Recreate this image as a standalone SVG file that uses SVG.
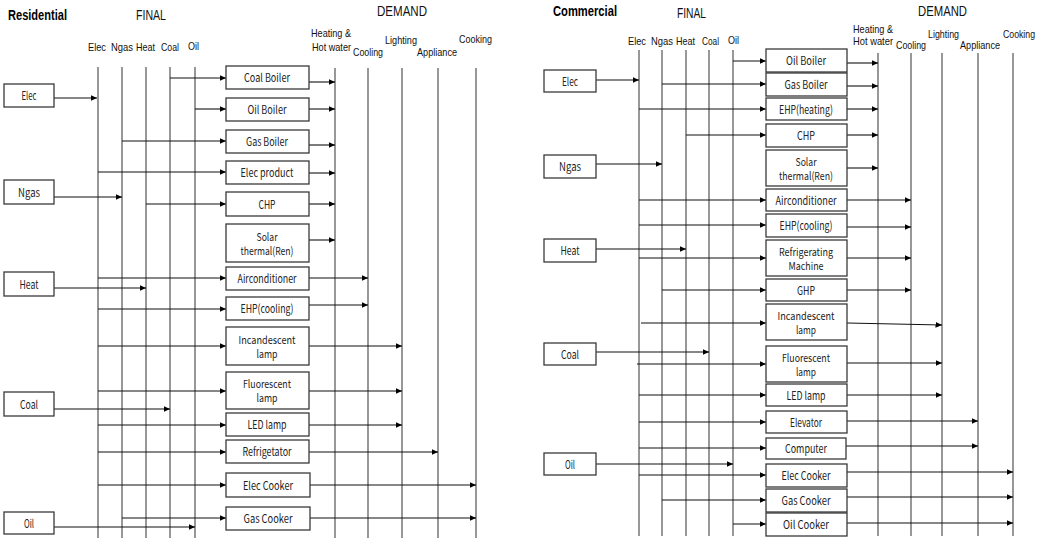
<svg xmlns="http://www.w3.org/2000/svg" width="1043" height="538" viewBox="0 0 1043 538">
<style>
.bg{fill:#fff}
.box{fill:#fff;stroke:#3a3a3a;stroke-width:1.3}
.lbl{font-family:"Noto Sans CJK KR","Noto Sans",sans-serif;font-size:11.5px;fill:#222;text-anchor:middle}
.l2{font-size:11px}
.hd{font-family:"Liberation Sans",Arial,sans-serif;font-size:11.5px;fill:#111}
.ttl{font-family:"Liberation Sans",Arial,sans-serif;font-size:14px;font-weight:bold;fill:#000}
.sec{font-family:"Liberation Sans",Arial,sans-serif;font-size:14px;fill:#111}
.ln{stroke:#444;stroke-width:1.1;fill:none}
.ar{stroke:#111;stroke-width:1.1;fill:none;marker-end:url(#ah)}
</style>
<defs>
<marker id="ah" markerUnits="userSpaceOnUse" markerWidth="7" markerHeight="6" refX="6.5" refY="3" orient="auto">
<path d="M0,0 L6.5,3 L0,6 z" fill="#000"/>
</marker>
</defs>
<rect class="bg" x="0" y="0" width="1043" height="538"/>

<g id="headers">
<text class="ttl" x="8" y="20" textLength="59" lengthAdjust="spacingAndGlyphs">Residential</text>
<text class="sec" x="136" y="20" textLength="30" lengthAdjust="spacingAndGlyphs">FINAL</text>
<text class="sec" x="377" y="16" textLength="50" lengthAdjust="spacingAndGlyphs">DEMAND</text>
<text class="hd" x="88" y="51" textLength="18" lengthAdjust="spacingAndGlyphs">Elec</text>
<text class="hd" x="111" y="51" textLength="22" lengthAdjust="spacingAndGlyphs">Ngas</text>
<text class="hd" x="136" y="51" textLength="19" lengthAdjust="spacingAndGlyphs">Heat</text>
<text class="hd" x="161" y="51" textLength="18" lengthAdjust="spacingAndGlyphs">Coal</text>
<text class="hd" x="188" y="50" textLength="11" lengthAdjust="spacingAndGlyphs">Oil</text>
<text class="hd" x="311" y="37" textLength="40" lengthAdjust="spacingAndGlyphs">Heating &amp;</text>
<text class="hd" x="312" y="51" textLength="39" lengthAdjust="spacingAndGlyphs">Hot water</text>
<text class="hd" x="353" y="56" textLength="30" lengthAdjust="spacingAndGlyphs">Cooling</text>
<text class="hd" x="385" y="44" textLength="32" lengthAdjust="spacingAndGlyphs">Lighting</text>
<text class="hd" x="417" y="56" textLength="40" lengthAdjust="spacingAndGlyphs">Appliance</text>
<text class="hd" x="459" y="43" textLength="33" lengthAdjust="spacingAndGlyphs">Cooking</text>

<text class="ttl" x="553" y="16" textLength="64" lengthAdjust="spacingAndGlyphs">Commercial</text>
<text class="sec" x="677" y="18" textLength="29" lengthAdjust="spacingAndGlyphs">FINAL</text>
<text class="sec" x="918" y="16" textLength="49" lengthAdjust="spacingAndGlyphs">DEMAND</text>
<text class="hd" x="628" y="45" textLength="18" lengthAdjust="spacingAndGlyphs">Elec</text>
<text class="hd" x="651" y="45" textLength="22" lengthAdjust="spacingAndGlyphs">Ngas</text>
<text class="hd" x="676" y="45" textLength="19" lengthAdjust="spacingAndGlyphs">Heat</text>
<text class="hd" x="702" y="45" textLength="17" lengthAdjust="spacingAndGlyphs">Coal</text>
<text class="hd" x="728" y="44" textLength="11" lengthAdjust="spacingAndGlyphs">Oil</text>
<text class="hd" x="853" y="33" textLength="40" lengthAdjust="spacingAndGlyphs">Heating &amp;</text>
<text class="hd" x="853" y="45" textLength="40" lengthAdjust="spacingAndGlyphs">Hot water</text>
<text class="hd" x="896" y="49" textLength="30" lengthAdjust="spacingAndGlyphs">Cooling</text>
<text class="hd" x="928" y="38" textLength="31" lengthAdjust="spacingAndGlyphs">Lighting</text>
<text class="hd" x="960" y="49" textLength="40" lengthAdjust="spacingAndGlyphs">Appliance</text>
<text class="hd" x="1003" y="38" textLength="32" lengthAdjust="spacingAndGlyphs" style="font-size:10px">Cooking</text>
</g>

<g id="connectors">
<path class="ln" d="M98,67V538 M122,67V538 M146,67V538 M170,67V538 M195,67V538"/>
<path class="ln" d="M335,68V538 M368,68V538 M402,68V538 M438,68V538 M476,68V538"/>
<path class="ar" d="M54,98H97"/>
<path class="ar" d="M54,197H122"/>
<path class="ar" d="M54,288H146"/>
<path class="ar" d="M54,409H170"/>
<path class="ar" d="M54,527H195"/>
<path class="ar" d="M170,78H226"/>
<path class="ar" d="M195,109H226"/>
<path class="ar" d="M122,141H226"/>
<path class="ar" d="M98,172H226"/>
<path class="ar" d="M146,204H226"/>
<path class="ar" d="M98,278H226"/>
<path class="ar" d="M98,309H226"/>
<path class="ar" d="M98,346H226"/>
<path class="ar" d="M98,391H226"/>
<path class="ar" d="M98,425H226"/>
<path class="ar" d="M98,452H226"/>
<path class="ar" d="M98,485H226"/>
<path class="ar" d="M122,518H226"/>
<path class="ar" d="M309,82H335"/>
<path class="ar" d="M309,109H335"/>
<path class="ar" d="M309,145H335"/>
<path class="ar" d="M309,173H335"/>
<path class="ar" d="M309,204H335"/>
<path class="ar" d="M309,240H335"/>
<path class="ar" d="M309,278H368"/>
<path class="ar" d="M309,305H368"/>
<path class="ar" d="M309,346H402"/>
<path class="ar" d="M309,391H402"/>
<path class="ar" d="M309,425H402"/>
<path class="ar" d="M309,452H438"/>
<path class="ar" d="M310,485H476"/>
<path class="ar" d="M310,518H476"/>

<path class="ln" d="M639,50V536 M662,50V536 M686,50V536 M709,50V536 M733,50V536"/>
<path class="ln" d="M878,53V536 M911,53V536 M942,53V536 M978,53V536 M1013,53V536"/>
<path class="ar" d="M596,80H639"/>
<path class="ar" d="M596,164H662"/>
<path class="ar" d="M596,249H686"/>
<path class="ar" d="M596,352H709"/>
<path class="ar" d="M596,464H733"/>
<path class="ar" d="M733,61H766"/>
<path class="ar" d="M662,84H766"/>
<path class="ar" d="M639,109H766"/>
<path class="ar" d="M686,135H766"/>
<path class="ar" d="M639,200H766"/>
<path class="ar" d="M639,225H766"/>
<path class="ar" d="M639,258H766"/>
<path class="ar" d="M662,290H766"/>
<path class="ar" d="M641,323H766"/>
<path class="ar" d="M637,364H766"/>
<path class="ar" d="M639,395H766"/>
<path class="ar" d="M639,422H766"/>
<path class="ar" d="M639,448H766"/>
<path class="ar" d="M639,475H766"/>
<path class="ar" d="M662,500H766"/>
<path class="ar" d="M733,524H766"/>
<path class="ar" d="M847,63H878"/>
<path class="ar" d="M847,86H878"/>
<path class="ar" d="M847,109H878"/>
<path class="ar" d="M847,135H878"/>
<path class="ar" d="M847,168H878"/>
<path class="ar" d="M847,200H911"/>
<path class="ar" d="M847,227H911"/>
<path class="ar" d="M847,258H911"/>
<path class="ar" d="M847,290H911"/>
<path class="ar" d="M847,323L942,325"/>
<path class="ar" d="M847,363H942"/>
<path class="ar" d="M847,395H942"/>
<path class="ar" d="M847,421H978"/>
<path class="ar" d="M846,446H978"/>
<path class="ar" d="M847,472H1013"/>
<path class="ar" d="M847,497H1013"/>
<path class="ar" d="M847,523H1013"/>
</g>

<g id="res-src-elec"><rect class="box" x="4" y="84" width="50" height="23"/><text class="lbl" x="29" y="100" textLength="15" lengthAdjust="spacingAndGlyphs">Elec</text></g>
<g id="res-src-ngas"><rect class="box" x="4" y="180" width="50" height="24"/><text class="lbl" x="29" y="196.5" textLength="22" lengthAdjust="spacingAndGlyphs">Ngas</text></g>
<g id="res-src-heat"><rect class="box" x="4" y="272" width="50" height="24"/><text class="lbl" x="29" y="288.5" textLength="19" lengthAdjust="spacingAndGlyphs">Heat</text></g>
<g id="res-src-coal"><rect class="box" x="4" y="392" width="50" height="24"/><text class="lbl" x="29" y="408.5" textLength="18" lengthAdjust="spacingAndGlyphs">Coal</text></g>
<g id="res-src-oil"><rect class="box" x="4" y="512" width="50" height="22"/><text class="lbl" x="29" y="527.5" textLength="10" lengthAdjust="spacingAndGlyphs">Oil</text></g>

<g id="res-coal-boiler"><rect class="box" x="226" y="66" width="83" height="23"/><text class="lbl" x="267" y="82" textLength="46" lengthAdjust="spacingAndGlyphs">Coal Boiler</text></g>
<g id="res-oil-boiler"><rect class="box" x="226" y="98" width="83" height="23"/><text class="lbl" x="267" y="114" textLength="39" lengthAdjust="spacingAndGlyphs">Oil Boiler</text></g>
<g id="res-gas-boiler"><rect class="box" x="226" y="130" width="83" height="23"/><text class="lbl" x="267" y="146" textLength="42" lengthAdjust="spacingAndGlyphs">Gas Boiler</text></g>
<g id="res-elec-product"><rect class="box" x="226" y="161" width="83" height="23"/><text class="lbl" x="267" y="177" textLength="53" lengthAdjust="spacingAndGlyphs">Elec product</text></g>
<g id="res-chp"><rect class="box" x="226" y="192" width="83" height="24"/><text class="lbl" x="267" y="208.5" textLength="17" lengthAdjust="spacingAndGlyphs">CHP</text></g>
<g id="res-solar"><rect class="box" x="226" y="224" width="83" height="38"/><text class="lbl l2" x="267" y="241" textLength="21" lengthAdjust="spacingAndGlyphs">Solar</text><text class="lbl l2" x="267" y="255" textLength="53" lengthAdjust="spacingAndGlyphs">thermal(Ren)</text></g>
<g id="res-aircon"><rect class="box" x="226" y="267" width="83" height="23"/><text class="lbl" x="267" y="283" textLength="59" lengthAdjust="spacingAndGlyphs">Airconditioner</text></g>
<g id="res-ehp-cooling"><rect class="box" x="226" y="297" width="83" height="23"/><text class="lbl" x="267" y="313" textLength="53" lengthAdjust="spacingAndGlyphs">EHP(cooling)</text></g>
<g id="res-incandescent"><rect class="box" x="226" y="327" width="83" height="38"/><text class="lbl l2" x="267" y="344" textLength="57" lengthAdjust="spacingAndGlyphs">Incandescent</text><text class="lbl l2" x="267" y="358" textLength="21" lengthAdjust="spacingAndGlyphs">lamp</text></g>
<g id="res-fluorescent"><rect class="box" x="226" y="372" width="83" height="37"/><text class="lbl l2" x="267" y="388" textLength="48" lengthAdjust="spacingAndGlyphs">Fluorescent</text><text class="lbl l2" x="267" y="402" textLength="21" lengthAdjust="spacingAndGlyphs">lamp</text></g>
<g id="res-led"><rect class="box" x="226" y="413" width="83" height="23"/><text class="lbl" x="267" y="429" textLength="39" lengthAdjust="spacingAndGlyphs">LED lamp</text></g>
<g id="res-refrig"><rect class="box" x="226" y="440" width="83" height="23"/><text class="lbl" x="267" y="456" textLength="49" lengthAdjust="spacingAndGlyphs">Refrigetator</text></g>
<g id="res-elec-cooker"><rect class="box" x="226" y="473" width="84" height="24"/><text class="lbl" x="268" y="489.5" textLength="50" lengthAdjust="spacingAndGlyphs">Elec Cooker</text></g>
<g id="res-gas-cooker"><rect class="box" x="226" y="507" width="84" height="23"/><text class="lbl" x="268" y="523" textLength="49" lengthAdjust="spacingAndGlyphs">Gas Cooker</text></g>

<g id="com-src-elec"><rect class="box" x="544" y="70" width="52" height="22"/><text class="lbl" x="570" y="85.5" textLength="16" lengthAdjust="spacingAndGlyphs">Elec</text></g>
<g id="com-src-ngas"><rect class="box" x="544" y="155" width="52" height="23"/><text class="lbl" x="570" y="171" textLength="22" lengthAdjust="spacingAndGlyphs">Ngas</text></g>
<g id="com-src-heat"><rect class="box" x="544" y="239" width="52" height="23"/><text class="lbl" x="570" y="255" textLength="19" lengthAdjust="spacingAndGlyphs">Heat</text></g>
<g id="com-src-coal"><rect class="box" x="544" y="343" width="52" height="22"/><text class="lbl" x="570" y="358.5" textLength="18" lengthAdjust="spacingAndGlyphs">Coal</text></g>
<g id="com-src-oil"><rect class="box" x="544" y="453" width="52" height="22"/><text class="lbl" x="570" y="468.5" textLength="10" lengthAdjust="spacingAndGlyphs">Oil</text></g>

<g id="com-oil-boiler"><rect class="box" x="766" y="49" width="81" height="23"/><text class="lbl" x="806" y="65" textLength="40" lengthAdjust="spacingAndGlyphs">Oil Boiler</text></g>
<g id="com-gas-boiler"><rect class="box" x="766" y="73" width="81" height="23"/><text class="lbl" x="806" y="89" textLength="43" lengthAdjust="spacingAndGlyphs">Gas Boiler</text></g>
<g id="com-ehp-heating"><rect class="box" x="766" y="98" width="81" height="22"/><text class="lbl" x="806" y="113.5" textLength="54" lengthAdjust="spacingAndGlyphs">EHP(heating)</text></g>
<g id="com-chp"><rect class="box" x="766" y="124" width="81" height="23"/><text class="lbl" x="806" y="140" textLength="18" lengthAdjust="spacingAndGlyphs">CHP</text></g>
<g id="com-solar"><rect class="box" x="766" y="150" width="81" height="36"/><text class="lbl l2" x="806" y="165.5" textLength="21" lengthAdjust="spacingAndGlyphs">Solar</text><text class="lbl l2" x="806" y="179.5" textLength="54" lengthAdjust="spacingAndGlyphs">thermal(Ren)</text></g>
<g id="com-aircon"><rect class="box" x="766" y="189" width="81" height="22"/><text class="lbl" x="806" y="204.5" textLength="61" lengthAdjust="spacingAndGlyphs">Airconditioner</text></g>
<g id="com-ehp-cooling"><rect class="box" x="766" y="214" width="81" height="23"/><text class="lbl" x="806" y="230" textLength="53" lengthAdjust="spacingAndGlyphs">EHP(cooling)</text></g>
<g id="com-refrig-machine"><rect class="box" x="766" y="240" width="81" height="36"/><text class="lbl l2" x="806" y="255.5" textLength="54" lengthAdjust="spacingAndGlyphs">Refrigerating</text><text class="lbl l2" x="806" y="269.5" textLength="35" lengthAdjust="spacingAndGlyphs">Machine</text></g>
<g id="com-ghp"><rect class="box" x="766" y="279" width="81" height="22"/><text class="lbl" x="806" y="294.5" textLength="18" lengthAdjust="spacingAndGlyphs">GHP</text></g>
<g id="com-incandescent"><rect class="box" x="766" y="304" width="81" height="36"/><text class="lbl l2" x="806" y="319.5" textLength="57" lengthAdjust="spacingAndGlyphs">Incandescent</text><text class="lbl l2" x="806" y="333.5" textLength="20" lengthAdjust="spacingAndGlyphs">lamp</text></g>
<g id="com-fluorescent"><rect class="box" x="766" y="346" width="81" height="36"/><text class="lbl l2" x="806" y="361.5" textLength="48" lengthAdjust="spacingAndGlyphs">Fluorescent</text><text class="lbl l2" x="806" y="375.5" textLength="20" lengthAdjust="spacingAndGlyphs">lamp</text></g>
<g id="com-led"><rect class="box" x="766" y="384" width="81" height="22"/><text class="lbl" x="806" y="399.5" textLength="39" lengthAdjust="spacingAndGlyphs">LED lamp</text></g>
<g id="com-elevator"><rect class="box" x="766" y="411" width="81" height="22"/><text class="lbl" x="806" y="426.5" textLength="32" lengthAdjust="spacingAndGlyphs">Elevator</text></g>
<g id="com-computer"><rect class="box" x="766" y="438" width="80" height="21"/><text class="lbl" x="806" y="453" textLength="42" lengthAdjust="spacingAndGlyphs">Computer</text></g>
<g id="com-elec-cooker"><rect class="box" x="766" y="464" width="81" height="23"/><text class="lbl" x="806" y="480" textLength="49" lengthAdjust="spacingAndGlyphs">Elec Cooker</text></g>
<g id="com-gas-cooker"><rect class="box" x="766" y="489" width="81" height="23"/><text class="lbl" x="806" y="505" textLength="49" lengthAdjust="spacingAndGlyphs">Gas Cooker</text></g>
<g id="com-oil-cooker"><rect class="box" x="766" y="513" width="81" height="23"/><text class="lbl" x="806" y="529" textLength="46" lengthAdjust="spacingAndGlyphs">Oil Cooker</text></g>
</svg>
